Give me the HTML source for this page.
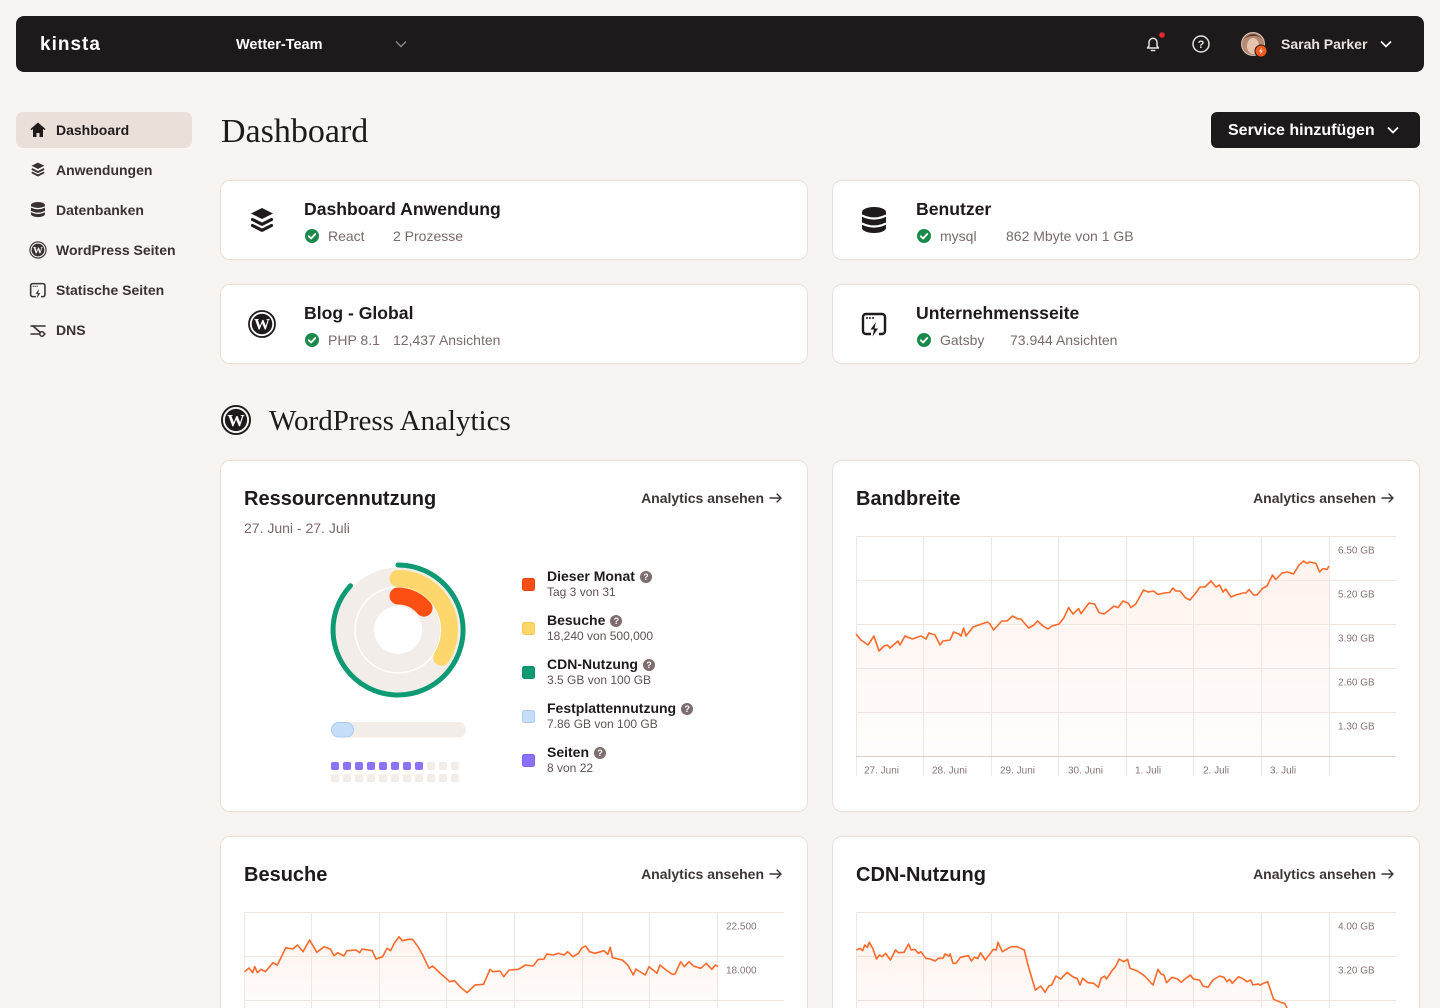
<!DOCTYPE html>
<html><head><meta charset="utf-8">
<style>
*{margin:0;padding:0;box-sizing:border-box}
html,body{width:1440px;height:1008px;overflow:hidden;background:#f8f4f1;font-family:"Liberation Sans",sans-serif;color:#1f1a1b;position:relative}
.a{position:absolute;white-space:nowrap}
.top{left:16px;top:16px;width:1408px;height:56px;background:#1e1a1b;border-radius:8px}
.nav{position:absolute;left:56px;font-size:14px;font-weight:700;color:#3a3132;line-height:20px}
.card{position:absolute;background:#fff;border:1px solid #ebdfd8;border-radius:10px}
.ct{position:absolute;font-size:17.6px;font-weight:700;line-height:24px;color:#1f1a1b;white-space:nowrap}
.cs{position:absolute;font-size:14px;line-height:20px;color:#7a6a6b;white-space:nowrap}
.h2{position:absolute;font-size:20px;font-weight:700;line-height:24px;color:#1f1a1b;white-space:nowrap}
.lk{position:absolute;font-size:14px;font-weight:700;line-height:20px;color:#3f3536;text-align:right;white-space:nowrap}
.lg{position:absolute;left:547px;white-space:nowrap}
.lg b{display:block;font-size:14px;line-height:16px;color:#1f1a1b}
.lg span{display:block;font-size:12px;line-height:16px;color:#5f5253}
.q{display:inline-block;width:12px;height:12px;border-radius:6px;background:#7d6d6e;color:#fff;font-size:9px;line-height:12px;text-align:center;vertical-align:1px;margin-left:5px;font-weight:700;font-style:normal}
</style></head>
<body>
<div class="a top"></div>
<div class="a" style="left:40px;top:33px;font-size:19px;font-weight:700;color:#fff;letter-spacing:1px;line-height:24px">kinsta</div>
<div class="a" style="left:236px;top:35px;font-size:14.5px;font-weight:700;color:#fff;line-height:20px">Wetter-Team</div>
<div class="a" style="left:1281px;top:34px;font-size:14px;font-weight:700;color:#ebe3df;line-height:20px">Sarah Parker</div>

<!-- sidebar -->
<div class="a" style="left:16px;top:112px;width:176px;height:36px;border-radius:7px;background:#ebe0d9"></div>
<div class="nav" style="top:120px;color:#1f1a1b">Dashboard</div>
<div class="nav" style="top:160px">Anwendungen</div>
<div class="nav" style="top:200px">Datenbanken</div>
<div class="nav" style="top:240px">WordPress Seiten</div>
<div class="nav" style="top:280px">Statische Seiten</div>
<div class="nav" style="top:320px">DNS</div>

<div class="a" style="left:221px;top:112px;font-family:'Liberation Serif',serif;font-size:34px;line-height:40px;color:#1f1a1b">Dashboard</div>
<div class="a" style="left:1211px;top:112px;width:209px;height:36px;border-radius:6px;background:#1e1a1b"></div>
<div class="a" style="left:1228px;top:121px;font-size:16px;font-weight:700;color:#fff;line-height:20px">Service hinzufügen</div>

<!-- service cards -->
<div class="card" style="left:220px;top:180px;width:588px;height:80px"></div>
<div class="card" style="left:832px;top:180px;width:588px;height:80px"></div>
<div class="card" style="left:220px;top:284px;width:588px;height:80px"></div>
<div class="card" style="left:832px;top:284px;width:588px;height:80px"></div>

<div class="ct" style="left:304px;top:197px">Dashboard Anwendung</div>
<div class="cs" style="left:328px;top:226px">React</div>
<div class="cs" style="left:393px;top:226px">2 Prozesse</div>
<div class="ct" style="left:304px;top:301px">Blog - Global</div>
<div class="cs" style="left:328px;top:330px">PHP 8.1</div>
<div class="cs" style="left:393px;top:330px">12,437 Ansichten</div>
<div class="ct" style="left:916px;top:197px">Benutzer</div>
<div class="cs" style="left:940px;top:226px">mysql</div>
<div class="cs" style="left:1006px;top:226px">862 Mbyte von 1 GB</div>
<div class="ct" style="left:916px;top:301px">Unternehmensseite</div>
<div class="cs" style="left:940px;top:330px">Gatsby</div>
<div class="cs" style="left:1010px;top:330px">73.944 Ansichten</div>

<div class="a" style="left:269px;top:403px;font-family:'Liberation Serif',serif;font-size:29px;line-height:36px;color:#1f1a1b">WordPress Analytics</div>

<!-- analytics cards -->
<div class="card" style="left:220px;top:460px;width:588px;height:352px"></div>
<div class="card" style="left:832px;top:460px;width:588px;height:352px"></div>
<div class="card" style="left:220px;top:836px;width:588px;height:200px"></div>
<div class="card" style="left:832px;top:836px;width:588px;height:200px"></div>

<div class="h2" style="left:244px;top:487px">Ressourcennutzung</div>
<div class="lk" style="left:560px;width:204px;top:488px">Analytics ansehen</div>
<div class="a" style="left:244px;top:518px;font-size:14px;line-height:20px;color:#7a6a6b">27. Juni - 27. Juli</div>
<div class="h2" style="left:856px;top:487px">Bandbreite</div>
<div class="lk" style="left:1172px;width:204px;top:488px">Analytics ansehen</div>
<div class="h2" style="left:244px;top:863px">Besuche</div>
<div class="lk" style="left:560px;width:204px;top:864px">Analytics ansehen</div>
<div class="h2" style="left:856px;top:863px">CDN-Nutzung</div>
<div class="lk" style="left:1172px;width:204px;top:864px">Analytics ansehen</div>

<div class="lg" style="top:568px"><b>Dieser Monat<i class="q">?</i></b><span>Tag 3 von 31</span></div>
<div class="lg" style="top:612px"><b>Besuche<i class="q">?</i></b><span>18,240 von 500,000</span></div>
<div class="lg" style="top:656px"><b>CDN-Nutzung<i class="q">?</i></b><span>3.5 GB von 100 GB</span></div>
<div class="lg" style="top:700px"><b>Festplattennutzung<i class="q">?</i></b><span>7.86 GB von 100 GB</span></div>
<div class="lg" style="top:744px"><b>Seiten<i class="q">?</i></b><span>8 von 22</span></div>

<svg class="a" style="left:0;top:0" width="1440" height="1008" viewBox="0 0 1440 1008" xmlns="http://www.w3.org/2000/svg">
<defs>
<linearGradient id="gf" x1="0" y1="0" x2="0" y2="1">
<stop offset="0" stop-color="#fb6a2a" stop-opacity="0.08"/>
<stop offset="1" stop-color="#fb6a2a" stop-opacity="0.015"/>
</linearGradient>
<g id="layers">
<path d="M12 1 L23 6.5 L12 12 L1 6.5 Z" fill="currentColor"/>
<path d="M2.5 12.5 L12 17.3 L21.5 12.5" fill="none" stroke="currentColor" stroke-width="3.2" stroke-linejoin="round" stroke-linecap="round"/>
<path d="M2.5 18.5 L12 23.3 L21.5 18.5" fill="none" stroke="currentColor" stroke-width="3.2" stroke-linejoin="round" stroke-linecap="round"/>
</g>
<g id="db">
<rect x="0" y="0" width="24" height="26" rx="12" ry="5" fill="currentColor"/>
<path d="M0 8.5 Q12 14.5 24 8.5" fill="none" stroke="#fff" stroke-width="2.2"/>
<path d="M0 16.5 Q12 22.5 24 16.5" fill="none" stroke="#fff" stroke-width="2.2"/>
</g>
<g id="wp">
<circle cx="0" cy="0" r="13" fill="none" stroke="currentColor" stroke-width="1.8"/>
<circle cx="0" cy="0" r="10.3" fill="currentColor"/>
<text x="0" y="5.6" text-anchor="middle" font-family="Liberation Serif,serif" font-weight="700" font-size="16" fill="#fff">W</text>
</g>
<g id="static">
<path d="M9 21 H4 a3 3 0 0 1 -3 -3 V4 a3 3 0 0 1 3 -3 H20 a3 3 0 0 1 3 3 V18 a3 3 0 0 1 -3 3 H17" fill="none" stroke="currentColor" stroke-width="2.4"/>
<circle cx="5" cy="5" r="1" fill="currentColor"/><circle cx="8" cy="5" r="1" fill="currentColor"/><circle cx="11" cy="5" r="1" fill="currentColor"/>
<path d="M14 9 L8.5 16.5 H12 L10.5 23.5 L16 15.5 H12.5 Z" fill="currentColor"/>
</g>
<g id="chk">
<circle cx="0" cy="0" r="7" fill="#1b8a4b"/>
<path d="M-3.2 0.2 L-0.9 2.5 L3.3 -2" fill="none" stroke="#fff" stroke-width="1.8" stroke-linecap="round" stroke-linejoin="round"/>
</g>
</defs>

<!-- topbar icons -->
<polyline points="396,41.5 401,46.5 406,41.5" fill="none" stroke="#8f8587" stroke-width="1.4"/>
<path d="M1147.5 48 L1149 46 V42.3 A4 4 0 0 1 1157 42.3 V46 L1158.5 48 Z" fill="none" stroke="#e9e1dd" stroke-width="1.5" stroke-linejoin="round"/>
<path d="M1151.3 50.5 H1154.7" stroke="#e9e1dd" stroke-width="1.5" stroke-linecap="round"/>
<circle cx="1162" cy="35" r="2.8" fill="#e5262a"/>
<circle cx="1201" cy="44" r="8" fill="none" stroke="#e9e1dd" stroke-width="1.5"/>
<text x="1201" y="48" text-anchor="middle" font-family="Liberation Sans,sans-serif" font-weight="700" font-size="11" fill="#e9e1dd">?</text>
<circle cx="1253" cy="44" r="12" fill="#d8c3b6"/>
<circle cx="1253" cy="44" r="11" fill="#b58a72"/>
<ellipse cx="1253" cy="46" rx="6" ry="8" fill="#e7c4ae"/>
<path d="M1243 40 Q1253 28 1263 40 Q1258 35 1253 36 Q1247 36 1243 40Z" fill="#5b3b2e"/>
<circle cx="1261" cy="51" r="6" fill="#f25b1d" stroke="#1e1a1b" stroke-width="1"/>
<path d="M1262 47.5 L1259 51.5 H1261 L1260 54.5 L1263 50.5 H1261 Z" fill="#fff"/>
<polyline points="1381,41.5 1386,46.5 1391,41.5" fill="none" stroke="#fff" stroke-width="1.6"/>
<polyline points="1388,127.5 1393,132.5 1398,127.5" fill="none" stroke="#fff" stroke-width="1.8"/>

<!-- sidebar icons -->
<path d="M38 122.5 L30.5 129 L31.5 130.2 L33 129 V137 H36.5 V133 H39.5 V137 H43 V129 L44.5 130.2 L45.5 129 Z" fill="#1f1a1b"/>
<g transform="translate(31,162) scale(0.58)" style="color:#3a3132"><use href="#layers"/></g>
<g transform="translate(31,202) scale(0.58)" style="color:#3a3132"><use href="#db"/></g>
<g transform="translate(38,250) scale(0.62)" style="color:#3a3132"><use href="#wp"/></g>
<g transform="translate(30,283) scale(0.65)" style="color:#3a3132"><use href="#static"/></g>
<g fill="none" stroke="#3a3132" stroke-width="1.6" stroke-linecap="round">
<path d="M31 326 H45"/><path d="M31 334 H45"/>
<path d="M33 326 L42 334"/>
</g>
<circle cx="42" cy="334" r="2.2" fill="#f8f4f1" stroke="#3a3132" stroke-width="1.5"/>

<!-- card icons -->
<g transform="translate(250,207)" style="color:#1f1a1b"><use href="#layers"/></g>
<g transform="translate(862,207)" style="color:#1f1a1b"><use href="#db"/></g>
<g transform="translate(262,324)" style="color:#1f1a1b"><use href="#wp"/></g>
<g transform="translate(862,313)" style="color:#1f1a1b"><use href="#static"/></g>
<g transform="translate(236,420) scale(1.08)" style="color:#1f1a1b"><use href="#wp"/></g>
<use href="#chk" x="312" y="236"/>
<use href="#chk" x="312" y="340"/>
<use href="#chk" x="924" y="236"/>
<use href="#chk" x="924" y="340"/>

<!-- link arrows -->
<g fill="none" stroke="#3f3536" stroke-width="1.4" stroke-linecap="round" stroke-linejoin="round">
<path d="M770 498 H781 M777 494 L781 498 L777 502"/>
<path d="M1382 498 H1393 M1389 494 L1393 498 L1389 502"/>
<path d="M770 874 H781 M777 870 L781 874 L777 878"/>
<path d="M1382 874 H1393 M1389 870 L1393 874 L1389 878"/>
</g>

<!-- donut -->
<circle cx="398" cy="630" r="62.5" fill="#f3ede9"/>
<circle cx="398" cy="630" r="43" fill="none" stroke="#fff" stroke-width="1.5"/>
<circle cx="398" cy="630" r="24" fill="#fff"/>
<path d="M398 565 A65 65 0 1 1 350.5 585.7" fill="none" stroke="#0e9a72" stroke-width="5" stroke-linecap="round"/>
<path d="M398 578.5 A51.5 51.5 0 0 1 441.7 657.3" fill="none" stroke="#fdd76b" stroke-width="17" stroke-linecap="round"/>
<path d="M398 596 A34 34 0 0 1 424 608.1" fill="none" stroke="#fb4f14" stroke-width="17" stroke-linecap="round"/>
<rect x="331" y="722" width="135" height="15.5" rx="7.75" fill="#f3ede9"/>
<rect x="331.5" y="722.5" width="22" height="14.5" rx="7.25" fill="#c6defa" stroke="#a9ccf4" stroke-width="1"/>
<g fill="#8c72fa">
<rect x="331" y="762" width="8" height="8" rx="2"/><rect x="343" y="762" width="8" height="8" rx="2"/><rect x="355" y="762" width="8" height="8" rx="2"/><rect x="367" y="762" width="8" height="8" rx="2"/><rect x="379" y="762" width="8" height="8" rx="2"/><rect x="391" y="762" width="8" height="8" rx="2"/><rect x="403" y="762" width="8" height="8" rx="2"/><rect x="415" y="762" width="8" height="8" rx="2"/>
</g>
<g fill="#f3ede9">
<rect x="427" y="762" width="8" height="8" rx="2"/><rect x="439" y="762" width="8" height="8" rx="2"/><rect x="451" y="762" width="8" height="8" rx="2"/>
<rect x="331" y="774" width="8" height="8" rx="2"/><rect x="343" y="774" width="8" height="8" rx="2"/><rect x="355" y="774" width="8" height="8" rx="2"/><rect x="367" y="774" width="8" height="8" rx="2"/><rect x="379" y="774" width="8" height="8" rx="2"/><rect x="391" y="774" width="8" height="8" rx="2"/><rect x="403" y="774" width="8" height="8" rx="2"/><rect x="415" y="774" width="8" height="8" rx="2"/><rect x="427" y="774" width="8" height="8" rx="2"/><rect x="439" y="774" width="8" height="8" rx="2"/><rect x="451" y="774" width="8" height="8" rx="2"/>
</g>
<!-- legend squares -->
<rect x="522.5" y="578.5" width="12" height="12" rx="2" fill="#fb4f14" stroke="#e4450f"/>
<rect x="522.5" y="622.5" width="12" height="12" rx="2" fill="#fdd76b" stroke="#f6cb55"/>
<rect x="522.5" y="666.5" width="12" height="12" rx="2" fill="#0e9a72" stroke="#0b8a66"/>
<rect x="522.5" y="710.5" width="12" height="12" rx="2" fill="#c6defa" stroke="#a9ccf4"/>
<rect x="522.5" y="754.5" width="12" height="12" rx="2" fill="#8c72fa" stroke="#7b60f0"/>

<!-- Bandbreite chart -->
<polygon fill="url(#gf)" points="856,634 861,640 868,645 874,636 879,651 884,646 887.5,645 890,648 898,641 900,645 905,636 912.5,639 921,636 926,639 929,633 935,635 940,645 943,641 950,640 953.6,632 959,634 961,636 963.6,628 966,636 973,627 978.6,625 987.5,622 990,624 993.6,630 1001.8,621 1007,621 1012.5,616 1018,619 1021,619 1028.6,628 1034,625 1037.5,621 1043,626 1048,629 1052,626 1059,624 1064,617.6 1068.6,607.6 1073,614 1078.6,608.6 1081,613.6 1084,609.6 1089,603 1094.6,604 1099,612.6 1104,614 1108,611 1114,606 1118,607.6 1123,601 1128,603 1131,607.6 1135.7,604 1143.6,590 1148,592 1153.6,591 1158,594.5 1164,593 1169.6,592.5 1173,588 1175.7,591 1180,591 1185.7,598 1190,600 1195.7,593 1200,587 1205,587 1211,581 1216,587 1219.6,585 1223,592 1225.7,589 1231,597 1235.7,595 1243,593 1246,593 1249,589.5 1253.6,595 1257,595 1262.5,588.5 1267,586 1272.5,575 1275.7,579.5 1282,573 1287.5,572 1293.6,574 1299,565 1303.6,561 1307,563.4 1310,562 1316,563.4 1319.6,572 1323,568.5 1327,569.5 1329,566 1329,756 856,756"/>
<g stroke="#f0e6e1" stroke-width="1" fill="none">
<path d="M856 536.5 H1396 M856 580.5 H1396 M856 624.5 H1396 M856 668.5 H1396 M856 712.5 H1396"/>
<path d="M856.5 536 V776 M923.5 536 V776 M991.5 536 V776 M1058.5 536 V776 M1126.5 536 V776 M1193.5 536 V776 M1261.5 536 V776 M1329.5 536 V776"/>
</g>
<path d="M856 756.5 H1396" stroke="#dccfc8" stroke-width="1"/>
<polyline fill="none" stroke="#fb6a2a" stroke-width="1.6" stroke-linejoin="round" points="856,634 861,640 868,645 874,636 879,651 884,646 887.5,645 890,648 898,641 900,645 905,636 912.5,639 921,636 926,639 929,633 935,635 940,645 943,641 950,640 953.6,632 959,634 961,636 963.6,628 966,636 973,627 978.6,625 987.5,622 990,624 993.6,630 1001.8,621 1007,621 1012.5,616 1018,619 1021,619 1028.6,628 1034,625 1037.5,621 1043,626 1048,629 1052,626 1059,624 1064,617.6 1068.6,607.6 1073,614 1078.6,608.6 1081,613.6 1084,609.6 1089,603 1094.6,604 1099,612.6 1104,614 1108,611 1114,606 1118,607.6 1123,601 1128,603 1131,607.6 1135.7,604 1143.6,590 1148,592 1153.6,591 1158,594.5 1164,593 1169.6,592.5 1173,588 1175.7,591 1180,591 1185.7,598 1190,600 1195.7,593 1200,587 1205,587 1211,581 1216,587 1219.6,585 1223,592 1225.7,589 1231,597 1235.7,595 1243,593 1246,593 1249,589.5 1253.6,595 1257,595 1262.5,588.5 1267,586 1272.5,575 1275.7,579.5 1282,573 1287.5,572 1293.6,574 1299,565 1303.6,561 1307,563.4 1310,562 1316,563.4 1319.6,572 1323,568.5 1327,569.5 1329,566"/>
<g font-family="Liberation Sans,sans-serif" font-size="10" fill="#857576">
<text x="1338" y="553.5">6.50 GB</text>
<text x="1338" y="597.5">5.20 GB</text>
<text x="1338" y="641.5">3.90 GB</text>
<text x="1338" y="685.5">2.60 GB</text>
<text x="1338" y="729.5">1.30 GB</text>
<text x="864" y="773.5">27. Juni</text>
<text x="932" y="773.5">28. Juni</text>
<text x="1000" y="773.5">29. Juni</text>
<text x="1068" y="773.5">30. Juni</text>
<text x="1135" y="773.5">1. Juli</text>
<text x="1203" y="773.5">2. Juli</text>
<text x="1270" y="773.5">3. Juli</text>
<text x="726" y="929.5">22.500</text>
<text x="726" y="973.5">18.000</text>
<text x="1338" y="929.5">4.00 GB</text>
<text x="1338" y="973.5">3.20 GB</text>
</g>

<!-- Besuche chart -->
<polygon fill="url(#gf)" points="244.6,971.7 249,968 252.6,972.7 254.8,966.7 257.4,972.7 261,969.3 265.4,971.7 273,962.7 277.4,965 285.8,947.7 292.8,949 297.5,945 303,951.7 309.6,940 316.9,952.3 324,946.7 330.4,949 334,955.7 337.7,952.7 343.9,956 346.8,950.7 355.9,950 359.6,952.7 362,949 372.3,950.7 376,959 382.6,956.7 387,948.3 390.6,950.7 394.2,943.3 399,936.7 402.3,940.7 408.8,939.3 412.5,939.3 418,946.7 422.7,955 429,968.3 432.6,966 441,974 445,977.3 449.7,981.7 454.5,980.7 460.7,987.3 467,992.7 475,985 483.6,984.3 490,969.3 492.8,971.7 500,971 503.7,976.7 509.2,970 518.3,969.3 525.6,965 533,966 538.4,959.3 543.9,959.3 546.8,954 553,955 558.5,953.3 564,955 567.6,951.7 573,956.7 578.5,953.3 582,947.7 585.8,946 589.5,951.7 595,953.3 604,950.7 607.7,954.3 610.3,947.3 612.5,957.7 622.3,960 627.8,965 633.3,975 635.8,969 645.3,975 649,966.7 657,973.3 660,965 666,970 672.3,974.3 675,974 680.7,961.7 684.4,966.7 689,961.7 693.5,966 700.8,968.3 706.3,963.3 711.8,969.3 715.4,965 718,966.7 718,1010 244.6,1010"/>
<g stroke="#f0e6e1" stroke-width="1" fill="none">
<path d="M244 912.5 H784 M244 956.5 H784 M244 1000.5 H784"/>
<path d="M244.5 912 V1008 M311.5 912 V1008 M379.5 912 V1008 M446.5 912 V1008 M514.5 912 V1008 M582.5 912 V1008 M649.5 912 V1008 M717.5 912 V1008"/>
<path d="M856 912.5 H1396 M856 956.5 H1396 M856 1000.5 H1396"/>
<path d="M856.5 912 V1008 M923.5 912 V1008 M991.5 912 V1008 M1058.5 912 V1008 M1126.5 912 V1008 M1193.5 912 V1008 M1261.5 912 V1008 M1329.5 912 V1008"/>
</g>
<polyline fill="none" stroke="#fb6a2a" stroke-width="1.6" stroke-linejoin="round" points="244.6,971.7 249,968 252.6,972.7 254.8,966.7 257.4,972.7 261,969.3 265.4,971.7 273,962.7 277.4,965 285.8,947.7 292.8,949 297.5,945 303,951.7 309.6,940 316.9,952.3 324,946.7 330.4,949 334,955.7 337.7,952.7 343.9,956 346.8,950.7 355.9,950 359.6,952.7 362,949 372.3,950.7 376,959 382.6,956.7 387,948.3 390.6,950.7 394.2,943.3 399,936.7 402.3,940.7 408.8,939.3 412.5,939.3 418,946.7 422.7,955 429,968.3 432.6,966 441,974 445,977.3 449.7,981.7 454.5,980.7 460.7,987.3 467,992.7 475,985 483.6,984.3 490,969.3 492.8,971.7 500,971 503.7,976.7 509.2,970 518.3,969.3 525.6,965 533,966 538.4,959.3 543.9,959.3 546.8,954 553,955 558.5,953.3 564,955 567.6,951.7 573,956.7 578.5,953.3 582,947.7 585.8,946 589.5,951.7 595,953.3 604,950.7 607.7,954.3 610.3,947.3 612.5,957.7 622.3,960 627.8,965 633.3,975 635.8,969 645.3,975 649,966.7 657,973.3 660,965 666,970 672.3,974.3 675,974 680.7,961.7 684.4,966.7 689,961.7 693.5,966 700.8,968.3 706.3,963.3 711.8,969.3 715.4,965 718,966.7"/>

<!-- CDN chart -->
<polygon fill="url(#gf)" points="856.4,950 860,948.3 862.6,950.7 864.8,945 867.4,947.3 869.2,942.3 872.8,948.3 876.5,959 879.4,955 882,956.7 885.6,953.3 890.4,960 895.5,950 898.4,952.7 904,952.3 908.6,944 911.2,950 914.8,949.3 918.5,953.3 921,951.7 925.8,958.3 930.5,959 934.9,961 938.5,958.3 943,958.3 945,954 948.8,956 950.2,954 953,963.3 956,963.3 960.4,957.3 968.5,955.7 971.4,961 974.3,957.3 978,958.3 980.5,952.7 985.3,960 993.3,949.3 996.2,950 998,942.3 1002.4,951.7 1007.9,948.3 1011.5,946.7 1017,946.7 1024.3,950 1028,965 1035.3,990 1040.7,986 1045,992.3 1048.8,986 1051.7,985 1056,976 1060.8,979 1067,972.3 1073.6,977.3 1077.2,978.3 1080,985 1082.7,978.3 1088,982.7 1093.6,983.3 1098.4,987.3 1101,978.3 1104.6,976 1106.4,979 1112,970.7 1115.5,966.7 1119.2,959 1123.6,961.7 1127.6,959.3 1130,968.3 1137.4,971 1144.7,976 1153,985 1158,969.3 1161,974 1164,975 1166.6,982.7 1172,977.3 1177.6,979 1181.2,982.3 1184.9,979 1190.4,975 1193.3,979 1199.5,980 1203,986 1208,987.3 1213,980 1219.6,976 1224,977.3 1226.9,981.7 1229.8,979.3 1232.3,983.3 1238.5,976.7 1243.3,979 1247,981.7 1250.6,980 1253,985 1258,984 1260.4,985 1263.4,983.3 1267.7,981.7 1273.6,999.3 1281.6,1002.7 1284.5,1003.3 1287,1008 1292,1020 856.4,1020"/>
<polyline fill="none" stroke="#fb6a2a" stroke-width="1.6" stroke-linejoin="round" points="856.4,950 860,948.3 862.6,950.7 864.8,945 867.4,947.3 869.2,942.3 872.8,948.3 876.5,959 879.4,955 882,956.7 885.6,953.3 890.4,960 895.5,950 898.4,952.7 904,952.3 908.6,944 911.2,950 914.8,949.3 918.5,953.3 921,951.7 925.8,958.3 930.5,959 934.9,961 938.5,958.3 943,958.3 945,954 948.8,956 950.2,954 953,963.3 956,963.3 960.4,957.3 968.5,955.7 971.4,961 974.3,957.3 978,958.3 980.5,952.7 985.3,960 993.3,949.3 996.2,950 998,942.3 1002.4,951.7 1007.9,948.3 1011.5,946.7 1017,946.7 1024.3,950 1028,965 1035.3,990 1040.7,986 1045,992.3 1048.8,986 1051.7,985 1056,976 1060.8,979 1067,972.3 1073.6,977.3 1077.2,978.3 1080,985 1082.7,978.3 1088,982.7 1093.6,983.3 1098.4,987.3 1101,978.3 1104.6,976 1106.4,979 1112,970.7 1115.5,966.7 1119.2,959 1123.6,961.7 1127.6,959.3 1130,968.3 1137.4,971 1144.7,976 1153,985 1158,969.3 1161,974 1164,975 1166.6,982.7 1172,977.3 1177.6,979 1181.2,982.3 1184.9,979 1190.4,975 1193.3,979 1199.5,980 1203,986 1208,987.3 1213,980 1219.6,976 1224,977.3 1226.9,981.7 1229.8,979.3 1232.3,983.3 1238.5,976.7 1243.3,979 1247,981.7 1250.6,980 1253,985 1258,984 1260.4,985 1263.4,983.3 1267.7,981.7 1273.6,999.3 1281.6,1002.7 1284.5,1003.3 1287,1008 1292,1020"/>
</svg>
</body></html>
